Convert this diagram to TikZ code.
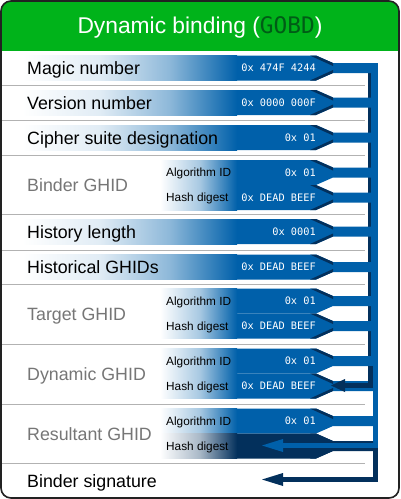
\documentclass[tikz,border=0pt]{standalone}
\usepackage{fontspec}
\setmainfont{Liberation Sans}
\newfontfamily\hexfont{DejaVu Sans Mono}

\definecolor{hdrgreen}{RGB}{0,179,26}
\definecolor{codegreen}{RGB}{0,92,22}
\definecolor{pipeblue}{RGB}{0,96,170}
\definecolor{pipenavy}{RGB}{3,48,92}
\definecolor{rulegray}{RGB}{178,178,178}
\definecolor{ghidgray}{RGB}{118,118,118}
\definecolor{framegray}{RGB}{34,34,34}

\tikzset{
  fieldlabel/.style={anchor=base west, inner sep=0pt, text=black, font=\fontsize{17.8}{20}\selectfont},
  grouplabel/.style={fieldlabel, text=ghidgray},
  sublabel/.style={anchor=base west, inner sep=0pt, text=black, font=\fontsize{11.8}{13}\selectfont},
  hexvalue/.style={anchor=base east, inner sep=0pt, text=white, font=\hexfont\fontsize{10.3}{12}\selectfont},
  separator/.style={draw=rulegray, line width=1pt},
}

% One pipe end: bar of height 25 from top #1, tapering into a connector; colour #2
\newcommand\pipebar[2]{%
  \fill[#2] (236,#1) -- (316,#1) -- (333,#1+7.5) -- (373,#1+7.5) -- (373,#1+17.5)
    -- (333,#1+17.5) -- (316,#1+25) -- (236,#1+25) -- cycle;
  \fill[pipenavy] (310,#1) -- (316,#1) -- (333,#1+7.5) -- (333,#1+10.5) -- cycle;
}
% bevel on the lower slant of a pipe end
\newcommand\lowbevel[1]{%
  \fill[pipenavy] (333,#1+17.5) -- (316,#1+25) -- (310,#1+25) -- (333,#1+14.5) -- cycle;
}

% single field: name, top, label, value
\newcommand\singlefield[4]{%
  \pipebar{#2}{pipeblue}\lowbevel{#2}
  \shade[left color=white, right color=pipeblue!12] (22,#2) rectangle (100.5,#2+25);
  \shade[left color=pipeblue!12, right color=pipeblue!45] (100,#2) rectangle (170.5,#2+25);
  \shade[left color=pipeblue!45, right color=pipeblue] (170,#2) rectangle (237,#2+25);
  \node[fieldlabel] (#1) at (27,#2+19) {#3};
  \node[hexvalue] (#1-val) at (316,#2+16.3) {#4};
}

% grouped field: name, top, label, algorithm value, digest value, digest colour
\newcommand\groupfield[6]{%
  \pipebar{#2}{pipeblue}
  \pipebar{#2+25}{#6}\lowbevel{#2+25}
  \shade[left color=white, right color=pipeblue!35] (160,#2) rectangle (200.5,#2+25);
  \shade[left color=pipeblue!35, right color=pipeblue] (200,#2) rectangle (237,#2+25);
  \shade[left color=white, right color=#6!35] (160,#2+25) rectangle (200.5,#2+50);
  \shade[left color=#6!35, right color=#6] (200,#2+25) rectangle (237,#2+50);
  \node[grouplabel] (#1) at (27,#2+31.5) {#3};
  \node[sublabel] (#1-alg) at (166,#2+16.7) {Algorithm ID};
  \node[sublabel] (#1-hash) at (166,#2+41.7) {Hash digest};
  \node[hexvalue] (#1-algval) at (316,#2+16.3) {#4};
  \node[hexvalue] (#1-hashval) at (316,#2+41.3) {#5};
}

\begin{document}
\begin{tikzpicture}[x=1pt,y=-1pt]
\useasboundingbox (0,0) rectangle (400,499);
\fill[white] (0,0) rectangle (400,499);

% header band
\begin{scope}
  \clip[rounded corners=10] (1,1) rectangle (399,498);
  \fill[hdrgreen] (0,0) rectangle (400,50.5);
\end{scope}
\node[anchor=base, inner sep=0pt, text=white, font=\fontsize{22.8}{26}\selectfont] (title)
  at (200,33.5) {Dynamic binding ({\hexfont\color{codegreen}GOBD})};

% row separators
\foreach \y in {85.5,120.5,155.5,214,250,284,344.5,404,463.5}
  \draw[separator] (2,\y) -- (365,\y);

% collecting bus
\fill[pipeblue] (368,62.5) rectangle (378,366);
\fill[pipenavy] (368,62.5) rectangle (371,366);
\fill[pipeblue] (372.5,366) rectangle (378,448);

% fields
\singlefield{magic}{55.5}{Magic number}{0x 474F 4244}
\singlefield{version}{90}{Version number}{0x 0000 000F}
\singlefield{cipher}{125}{Cipher suite designation}{0x 01}
\groupfield{binder}{160}{Binder GHID}{0x 01}{0x DEAD BEEF}{pipeblue}
\singlefield{histlen}{219}{History length}{0x 0001}
\singlefield{histghid}{254.5}{Historical GHIDs}{0x DEAD BEEF}
\groupfield{target}{288.5}{Target GHID}{0x 01}{0x DEAD BEEF}{pipeblue}
\groupfield{dynamic}{348.5}{Dynamic GHID}{0x 01}{0x DEAD BEEF}{pipeblue}
\groupfield{result}{408.5}{Resultant GHID}{0x 01}{}{pipenavy}
\node[fieldlabel] (signature) at (27,487) {Binder signature};

% feed into the dynamic digest
\coordinate (dynfeed) at (372.5,366);
\coordinate (dynin) at (345,385.5);
\fill[pipenavy] (368,366) rectangle (372.5,388);
\fill[pipenavy] (344,383) rectangle (372.5,388);
\fill[pipenavy] (331,385.5) -- (345,379) -- (345,392) -- cycle;

% feed into the resultant digest
\coordinate (resin) at (283,445.5);
\fill[pipenavy] (333,440.5) rectangle (373,450.5);
\fill[pipeblue] (282,443) rectangle (378,448);
\fill[pipeblue] (262,445.5) -- (283,439) -- (283,452) -- cycle;

% feed into the signature
\coordinate (sigin) at (283,479.5);
\fill[pipenavy] (373,448) rectangle (378,482);
\fill[pipenavy] (282,477) rectangle (378,482);
\fill[pipenavy] (262,479.5) -- (283,473) -- (283,486) -- cycle;

% frame
\draw[framegray, line width=1.6pt, rounded corners=10] (1,1) rectangle (399,498);
\end{tikzpicture}
\end{document}
